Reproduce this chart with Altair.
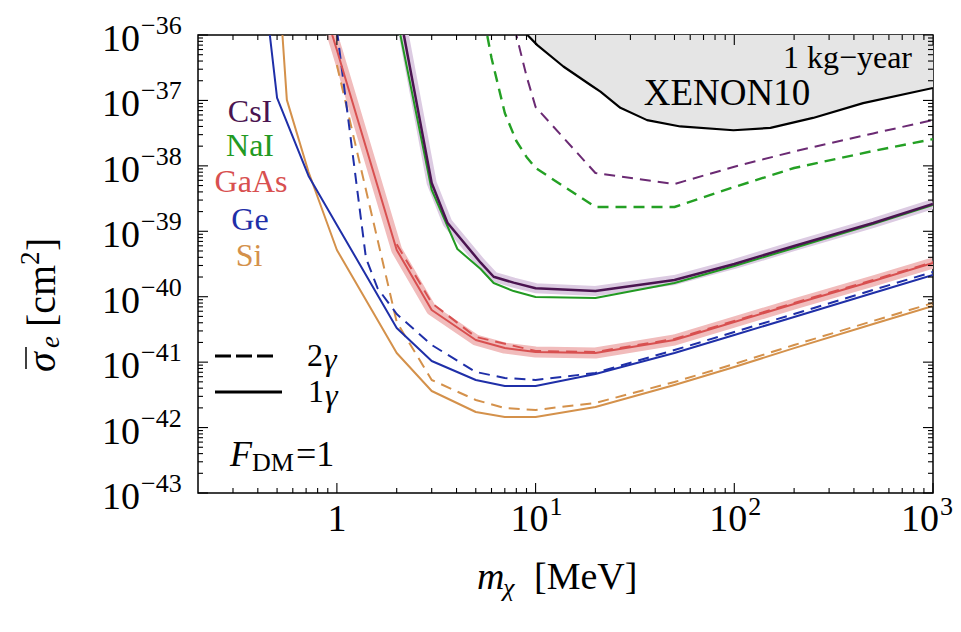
import altair as alt
import pandas as pd

SERIF = "Liberation Serif"
W, H = 735, 458

# ---------------- data (mass in MeV, cross section in cm^2) ----------------
xenon_mass = [9.1, 10.2, 13.8, 18.9, 21.2, 26.7, 36.4, 53.5, 99, 152, 249, 445, 1000]
xenon_sigma = [1.0e-36, 7.0e-37, 3.3e-37, 1.72e-37, 1.36e-37, 7.7e-38, 5.0e-38, 4.0e-38,
               3.5e-38, 3.8e-38, 5.4e-38, 9.1e-38, 1.55e-37]

csi_mass = [2.0, 3.0, 3.6, 5.29, 6.15, 7.75, 10, 20, 50, 100, 200, 500, 1000]
csi_sigma = [3.8e-36, 5.47e-39, 1.35e-39, 3.31e-40, 2.02e-40, 1.64e-40, 1.35e-40, 1.22e-40,
             1.80e-40, 3.16e-40, 5.96e-40, 1.34e-39, 2.61e-39]

nai_mass = [2.0, 3.0, 4.04, 5.29, 6.15, 7.75, 10, 20, 50, 100, 200, 500, 1000]
nai_sigma = [1.9e-36, 4.28e-39, 5.36e-40, 2.65e-40, 1.62e-40, 1.22e-40, 9.9e-41, 9.55e-41,
             1.62e-40, 2.95e-40, 5.56e-40, 1.29e-39, 2.52e-39]

csi2_mass = [7.5, 8, 9, 10, 20, 50, 100, 200, 500, 1000]
csi2_sigma = [2.4e-36, 1.0e-36, 2.36e-37, 7.94e-38, 7.78e-39, 5.28e-39, 9.7e-39, 1.66e-38,
              3.13e-38, 5.02e-38]

nai2_mass = [5.5, 6, 7, 8, 9, 10, 20, 50, 100, 200, 500, 1000]
nai2_sigma = [1.8e-36, 4.45e-37, 6.43e-38, 2.40e-38, 1.37e-38, 9.27e-39, 2.35e-39, 2.35e-39,
              4.75e-39, 9.27e-39, 1.69e-38, 2.56e-38]

gaas_mass = [0.9, 1.0, 2.0, 3.0, 5, 7, 10, 20, 50, 100, 200, 500, 1000]
gaas_sigma = [1.66e-36, 5.9e-37, 5.18e-40, 6.27e-41, 2.18e-41, 1.64e-41, 1.43e-41, 1.38e-41,
              2.18e-41, 4.11e-41, 7.74e-41, 1.74e-40, 3.27e-40]

gaas2_mass = [2.0, 3.0, 5, 10, 20, 50, 100, 200, 500, 1000]
gaas2_sigma = [6.35e-40, 8.02e-41, 2.43e-41, 1.48e-41, 1.43e-41, 2.26e-41, 4.26e-41, 8.02e-41,
               1.80e-40, 3.38e-40]

ge_mass = [0.45, 0.5, 0.72, 1.0, 2.0, 3.0, 5, 7, 10, 20, 50, 100, 200, 500, 1000]
ge_sigma = [1.76e-36, 1.09e-37, 7.0e-39, 1.25e-39, 3.33e-41, 1.04e-41, 5.34e-42, 4.32e-42,
            4.32e-42, 6.59e-42, 1.38e-41, 2.60e-41, 4.90e-41, 1.14e-40, 2.15e-40]

ge2_mass = [1.0, 1.4, 1.6, 2.0, 3.0, 5, 7, 10, 20, 50, 100, 200, 500, 1000]
ge2_sigma = [1.19e-36, 3.91e-40, 1.36e-40, 5.44e-41, 1.83e-41, 7.08e-42, 5.73e-42, 5.34e-42,
             6.83e-42, 1.53e-41, 2.89e-41, 5.44e-41, 1.27e-40, 2.39e-40]

si_mass = [0.53, 0.56, 0.72, 1.0, 2.0, 3.0, 5, 7, 10, 20, 50, 100, 200, 500, 1000]
si_sigma = [1.19e-36, 1.02e-37, 8.05e-39, 5.18e-40, 1.38e-41, 3.62e-42, 1.73e-42, 1.45e-42,
            1.45e-42, 2.06e-42, 4.48e-42, 8.43e-42, 1.64e-41, 3.83e-41, 7.21e-41]

si2_mass = [1.0, 2.0, 3.0, 5, 7, 10, 20, 50, 100, 200, 500, 1000]
si2_sigma = [3.48e-37, 4.11e-41, 5.34e-42, 2.64e-42, 1.99e-42, 1.86e-42, 2.38e-42, 4.97e-42,
             9.37e-42, 1.83e-41, 4.26e-41, 8.02e-41]

y_tick_values = [1e-36, 1e-37, 1e-38, 1e-39, 1e-40, 1e-41, 1e-42, 1e-43]
y_tick_exps = ["−36", "−37", "−38", "−39", "−40", "−41", "−42", "−43"]
x_tick_values = [10, 100]
x_tick_exps = ["1", "2"]
x_last_value = [1000]
x_last_exp = ["3"]

# ---------------- scales ----------------
xs = alt.Scale(type="log", domain=[0.2, 1000])
ys = alt.Scale(type="log", domain=[1e-43, 1e-36])


def X(f="mass"):
    return alt.X(f"{f}:Q", scale=xs, axis=None)


def Y(f="sigma"):
    return alt.Y(f"{f}:Q", scale=ys, axis=None)


def curve(mass, sigma, color, width=2.0, dash=None, opacity=1.0):
    df = pd.DataFrame({"mass": mass, "sigma": sigma})
    kw = dict(color=color, strokeWidth=width, clip=True, opacity=opacity,
              strokeJoin="round", strokeCap="butt")
    if dash:
        kw["strokeDash"] = dash
    return alt.Chart(df).mark_line(**kw).encode(x=X(), y=Y())


one = pd.DataFrame({"a": [0]})


def txt(text, x, y, size=32, align="center", italic=False, color="black", angle=0):
    kw = dict(text=text, font=SERIF, fontSize=size, align=align, baseline="middle",
              color=color, angle=angle)
    if italic:
        kw["fontStyle"] = "italic"
    return alt.Chart(one).mark_text(**kw).encode(x=alt.value(x), y=alt.value(y))


def hrule(x1, x2, y, dash=None, width=3):
    kw = dict(color="black", strokeWidth=width)
    if dash:
        kw["strokeDash"] = dash
    return alt.Chart(one).mark_rule(**kw).encode(x=alt.value(x1), x2=alt.value(x2), y=alt.value(y))


def vrule(x, y1, y2, width=1.5):
    return alt.Chart(one).mark_rule(color="black", strokeWidth=width).encode(
        x=alt.value(x), y=alt.value(y1), y2=alt.value(y2))


layers = []

# XENON10 excluded region
xen_df = pd.DataFrame({"mass": xenon_mass, "sigma": xenon_sigma})
layers.append(alt.Chart(xen_df).mark_area(color="#e5e5e5", clip=True).encode(
    x=X(), y=Y(), y2=alt.datum(1e-36)))
layers.append(curve(xenon_mass, xenon_sigma, "black", 2.2))

# bands
layers.append(curve(gaas_mass, gaas_sigma, "#f1bcbc", 11))
layers.append(curve(csi_mass, csi_sigma, "#dccbe2", 10))

# dashed 2-gamma curves
DASH = [11, 7]
layers.append(curve(nai2_mass, nai2_sigma, "#24a024", 2.4, DASH))
layers.append(curve(csi2_mass, csi2_sigma, "#6b2a73", 2.0, DASH))
layers.append(curve(si2_mass, si2_sigma, "#d4914b", 2.0, DASH))
layers.append(curve(ge2_mass, ge2_sigma, "#1f2fa8", 2.0, DASH))

# solid 1-gamma curves
layers.append(curve(nai_mass, nai_sigma, "#229a22", 2.0))
layers.append(curve(csi_mass, csi_sigma, "#4a1450", 2.5))
layers.append(curve(gaas_mass, gaas_sigma, "#d85050", 2.0))
layers.append(curve(gaas2_mass, gaas2_sigma, "#d85050", 2.0, DASH))
layers.append(curve(si_mass, si_sigma, "#d4914b", 2.0))
layers.append(curve(ge_mass, ge_sigma, "#1f2fa8", 2.0))

# inward frame ticks
y_major = y_tick_values
y_minor = [k * 10.0 ** e for e in range(-43, -36) for k in range(2, 10)]
x_major = [1, 10, 100, 1000]
x_minor = [k / 10 for k in range(3, 10)] + [k * 10.0 ** e for e in range(0, 3) for k in range(2, 10)]


def yticks(vals, length):
    df = pd.DataFrame({"v": vals})
    base = alt.Chart(df).mark_rule(color="black", strokeWidth=1.1)
    return [base.encode(y=Y("v"), x=alt.value(0), x2=alt.value(length)),
            base.encode(y=Y("v"), x=alt.value(W), x2=alt.value(W - length))]


def xticks(vals, length):
    df = pd.DataFrame({"v": vals})
    base = alt.Chart(df).mark_rule(color="black", strokeWidth=1.1)
    return [base.encode(x=X("v"), y=alt.value(H), y2=alt.value(H - length)),
            base.encode(x=X("v"), y=alt.value(0), y2=alt.value(length))]


layers += yticks(y_major, 10) + yticks(y_minor, 5) + xticks(x_major, 10) + xticks(x_minor, 5)

# tick labels
ydf = pd.DataFrame({"v": y_tick_values, "e": y_tick_exps})
layers.append(alt.Chart(ydf).mark_text(font=SERIF, fontSize=38, align="right", baseline="middle",
                                       dy=5, text="10").encode(y=Y("v"), x=alt.value(-58)))
layers.append(alt.Chart(ydf).mark_text(font=SERIF, fontSize=26, align="left", baseline="middle",
                                       dy=-9).encode(y=Y("v"), x=alt.value(-57), text="e:N"))


def xlabel(vals, exps, shift):
    df = pd.DataFrame({"v": vals, "e": exps})
    return [
        alt.Chart(df).mark_text(font=SERIF, fontSize=38, align="right", baseline="middle",
                                dx=shift, text="10").encode(x=X("v"), y=alt.value(H + 27)),
        alt.Chart(df).mark_text(font=SERIF, fontSize=26, align="left", baseline="middle",
                                dx=shift + 1, dy=-13).encode(x=X("v"), y=alt.value(H + 27), text="e:N"),
    ]


layers += xlabel(x_tick_values, x_tick_exps, 13)
layers += xlabel(x_last_value, x_last_exp, 6)
layers.append(alt.Chart(pd.DataFrame({"v": [1]})).mark_text(
    font=SERIF, fontSize=38, align="center", baseline="middle", text="1").encode(
    x=X("v"), y=alt.value(H + 27)))

# axis titles
layers.append(txt("m", 279, 543, 38, "left", italic=True))
layers.append(txt("χ", 305, 553, 26, "left", italic=True))
layers.append(txt("[MeV]", 336, 543, 38, "left"))
layers.append(txt("σ", -155, 337, 40, "left", italic=True, angle=270))
layers.append(vrule(-172, 312, 334))
layers.append(txt("e", -147, 313, 27, "left", italic=True, angle=270))
layers.append(txt("[cm", -155, 292, 40, "left", angle=270))
layers.append(txt("2", -167, 230, 27, "left", angle=270))
layers.append(txt("]", -155, 216, 40, "left", angle=270))

# annotations
layers.append(txt("1 kg−year", 714, 23, 32, "right"))
layers.append(txt("XENON10", 529, 59, 37))
layers.append(txt("CsI", 52, 77, 32, color="#4a1450"))
layers.append(txt("NaI", 52, 111, 32, color="#229a22"))
layers.append(txt("GaAs", 53, 147, 32, color="#d85050"))
layers.append(txt("Ge", 52, 185, 32, color="#1f2fa8"))
layers.append(txt("Si", 51, 221, 32, color="#d4914b"))
layers.append(hrule(17, 75, 321, dash=[16, 5]))
layers.append(hrule(17, 84, 357))
layers.append(txt("2", 109, 321, 32, "left"))
layers.append(txt("γ", 126, 325, 32, "left", italic=True))
layers.append(txt("1", 110, 357, 32, "left"))
layers.append(txt("γ", 127, 361, 32, "left", italic=True))
layers.append(txt("F", 32, 420, 36, "left", italic=True))
layers.append(txt("DM", 54, 428, 26, "left"))
layers.append(txt("=1", 98, 420, 36, "left"))

chart = alt.layer(*layers).properties(
    width=W, height=H,
    padding={"left": 190, "top": 27, "right": 20, "bottom": 131},
    autosize=alt.AutoSizeParams(type="none"),
    background="white",
).configure_view(stroke="black", strokeWidth=1.5)

chart.save("out.html", embed_options={"renderer": "svg", "actions": False})
